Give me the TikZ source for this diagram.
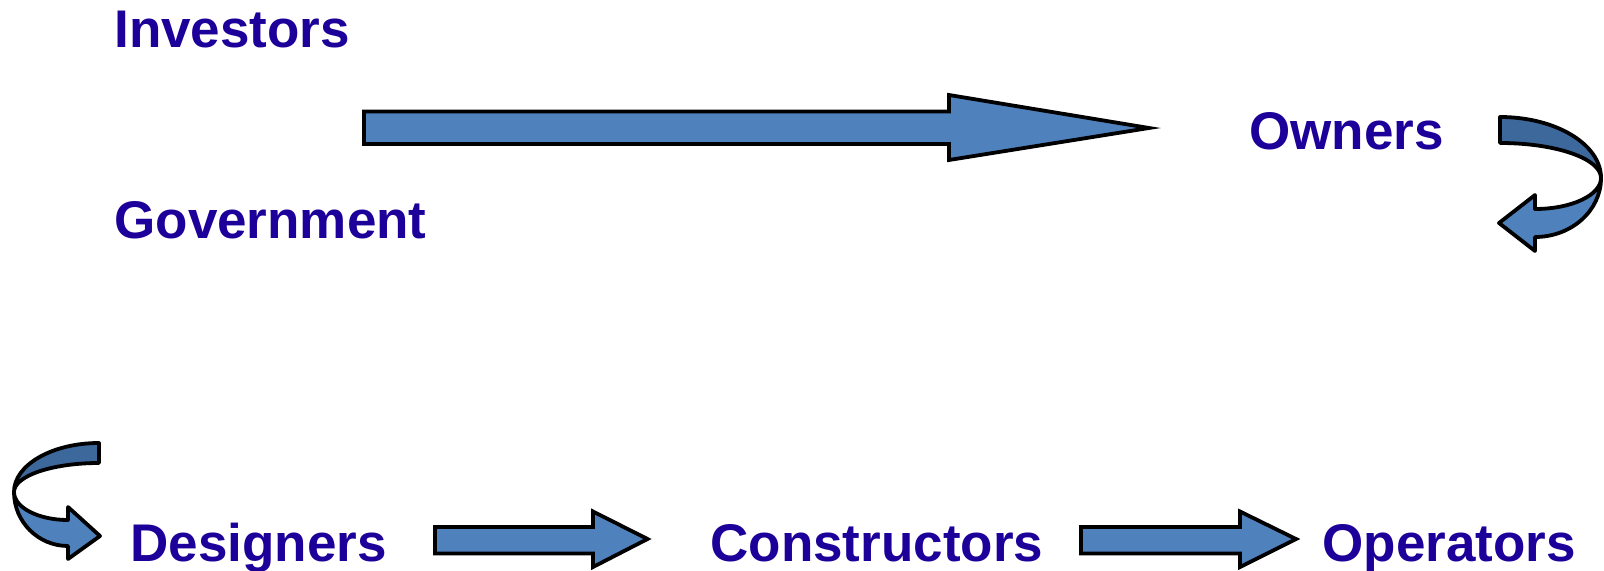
\documentclass[tikz,border=0pt]{standalone}
\usepackage{fontspec}
\setmainfont{Liberation Sans}
\definecolor{txtblue}{RGB}{28,0,153}
\definecolor{arrfill}{RGB}{79,129,189}
\definecolor{arrdark}{RGB}{61,104,155}
\begin{document}
\begin{tikzpicture}[x=0.5pt,y=-0.5pt,
  lbl/.style={anchor=base west,inner sep=0pt,text=txtblue,font=\fontsize{26.5pt}{30pt}\selectfont\bfseries},
  blockarrow/.style={draw=black,line width=1.9pt,fill=arrfill,line join=miter},
  backpart/.style={draw=black,line width=1.9pt,fill=arrdark,line join=round}]
\useasboundingbox (0,0) rectangle (1604,571);
% labels
\node[lbl] (inv) at (114,48) {Investors};
\node[lbl] (gov) at (114,239) {Government};
\node[lbl] (own) at (1249,150) {Owners};
\node[lbl] (des) at (130,561) {Designers};
\node[lbl] (con) at (710,561) {Constructors};
\node[lbl] (ope) at (1322,561) {Operators};
% big arrow
\draw[blockarrow] (364,111.5) -- (949,111.5) -- (949,95) -- (1149,128) -- (949,160) -- (949,144) -- (364,144) -- cycle;
% small arrows bottom
\draw[blockarrow] (435,527) -- (593,527) -- (593,511.5) -- (647.5,539) -- (593,567) -- (593,553.5) -- (435,553.5) -- cycle;
\draw[blockarrow] (1081,527) -- (1240,527) -- (1240,511.5) -- (1296,539) -- (1240,567) -- (1240,553.5) -- (1081,553.5) -- cycle;
% curved arrow top right
\draw[backpart] (1500,117) arc[start angle=-90,end angle=0,x radius=101,y radius=61]
   arc[start angle=0,end angle=-90,x radius=101,y radius=35] -- cycle;
\draw[blockarrow,line join=round] (1601,178) arc[start angle=0,end angle=90,x radius=66,y radius=31]
   -- (1535,195) -- (1499,223) -- (1535,251) -- (1535,237)
   arc[start angle=90,end angle=0,x radius=66,y radius=59];
% curved arrow bottom left
\draw[backpart] (99,443) arc[start angle=-90,end angle=-180,x radius=85,y radius=49]
   arc[start angle=180,end angle=270,x radius=85,y radius=29] -- cycle;
\draw[blockarrow,line join=round] (14,492) arc[start angle=180,end angle=90,x radius=54,y radius=28]
   -- (68,507) -- (100,536) -- (68,559) -- (68,546)
   arc[start angle=90,end angle=180,x radius=54,y radius=54];
\end{tikzpicture}
\end{document}
